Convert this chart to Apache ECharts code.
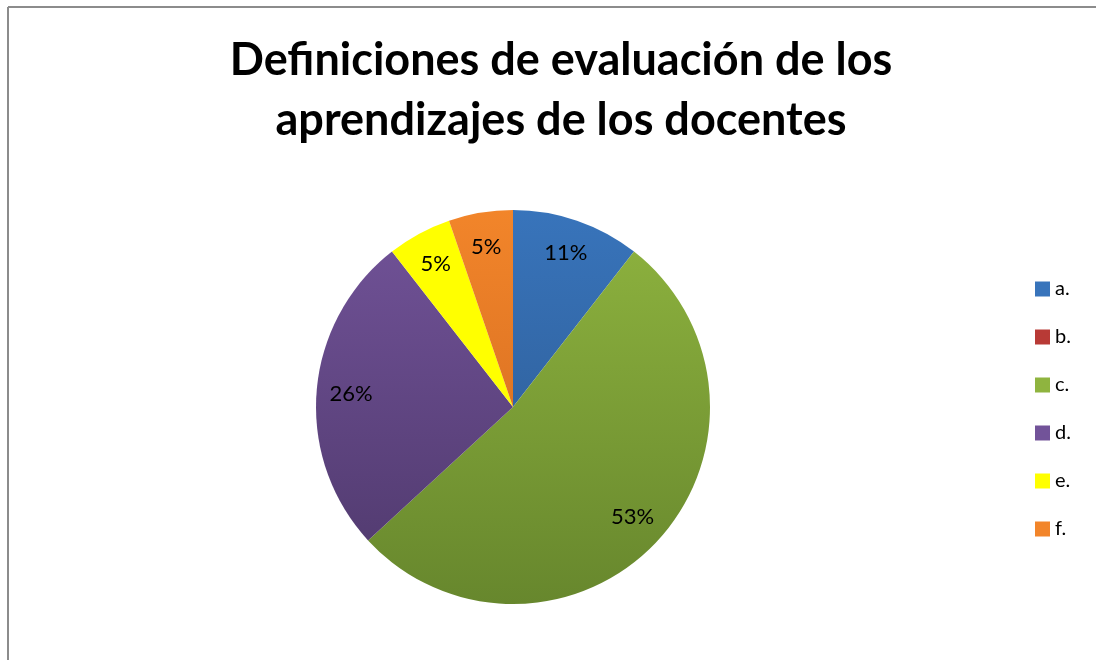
<!DOCTYPE html>
<html>
<head>
<meta charset="utf-8">
<script src="https://cdn.jsdelivr.net/npm/echarts@6/dist/echarts.min.js"></script>
<style>
  html, body { margin: 0; padding: 0; background: #fff; }
  #main { width: 1096px; height: 660px; }
</style>
</head>
<body>
<div id="main"></div>
<script>
var categories = ["a.", "b.", "c.", "d.", "e.", "f."];
var counts = [2, 0, 10, 5, 1, 1];
var topColors = ["#3874bb", "#b83a36", "#8fb43f", "#725399", "#ffff00", "#f2852a"];
var bottomColors = ["#2b568b", "#8c2a27", "#67872d", "#4e386b", "#ffff00", "#cc651e"];

var myChart = echarts.init(document.getElementById("main"));

var cx = 513, cy = 407, r = 197;

function grad(i) {
  return {
    type: "linear", x: 0, y: cy - r, x2: 0, y2: cy + r, global: true,
    colorStops: [
      { offset: 0, color: topColors[i] },
      { offset: 1, color: bottomColors[i] }
    ]
  };
}

var pieData = categories.map(function (name, i) {
  return { name: name, value: counts[i], itemStyle: { color: grad(i) } };
});
var labelData = categories.map(function (name, i) {
  return { name: name, value: counts[i] };
});

var option = {
  animation: false,
  title: {
    text: "Definiciones de evaluación de los\naprendizajes de los docentes",
    left: 556,
    textAlign: "center",
    top: 25,
    textStyle: {
      fontFamily: "Lato",
      fontWeight: "bold",
      fontSize: 45,
      lineHeight: 60,
      color: "#000"
    }
  },
  legend: {
    orient: "vertical",
    left: 1030,
    top: 274,
    itemWidth: 15,
    itemHeight: 15,
    itemGap: 28,
    icon: "rect",
    data: categories,
    textStyle: { fontFamily: "Lato", fontSize: 20, lineHeight: 18, color: "#000" }
  },
  graphic: [
    { type: "line", shape: { x1: 8, y1: 7, x2: 1096, y2: 7 }, style: { stroke: "#8c8c8c", lineWidth: 2 } },
    { type: "line", shape: { x1: 8, y1: 7, x2: 8, y2: 660 }, style: { stroke: "#8c8c8c", lineWidth: 2 } }
  ],
  series: [
    {
      type: "pie",
      center: [cx, cy],
      radius: [0, r],
      startAngle: 90,
      clockwise: true,
      label: { show: false },
      labelLine: { show: false },
      emphasis: { disabled: true },
      data: pieData
    },
    {
      // transparent copy, used only to place the percent labels at ~0.8r
      type: "pie",
      center: [cx, cy],
      radius: [0, r * 1.62],
      startAngle: 90,
      clockwise: true,
      silent: true,
      percentPrecision: 0,
      avoidLabelOverlap: false,
      itemStyle: { color: "rgba(0,0,0,0)" },
      label: {
        show: true,
        position: "inside",
        fontFamily: "Lato",
        fontSize: 22,
        color: "#000",
        formatter: function (p) { return p.value ? p.percent + "%" : ""; }
      },
      labelLayout: { hideOverlap: false },
      labelLine: { show: false },
      data: labelData
    }
  ]
};

myChart.setOption(option);
</script>
</body>
</html>
